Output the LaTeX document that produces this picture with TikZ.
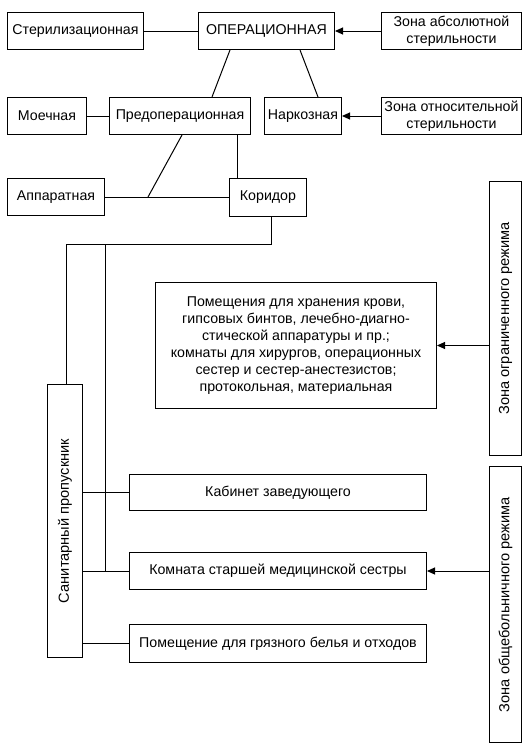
\documentclass[tikz,border=0pt]{standalone}
\usepackage{fontspec}
\setmainfont{Liberation Sans}
\usetikzlibrary{arrows.meta,calc}
\begin{document}
\begin{tikzpicture}[x=1pt,y=-1pt,
  box/.style={draw,line width=1pt,inner sep=0pt,anchor=north west,align=center,font=\fontsize{14.2}{17}\selectfont},
  vtext/.style={rotate=90,font=\fontsize{14.6}{17}\selectfont},
  con/.style={line width=1pt},
  arr/.style={line width=1pt,-{Triangle[length=8pt,width=7pt]}}]
\useasboundingbox (0,0) rectangle (531,747);
% top rows
\node[box,minimum width=136pt,minimum height=37pt] (ster) at (7,12) {Стерилизационная};
\node[box,minimum width=136pt,minimum height=37pt] (oper) at (198,12) {ОПЕРАЦИОННАЯ};
\node[box,minimum width=140pt,minimum height=37pt] (zabs) at (381,12) {Зона абсолютной\\стерильности};
\node[box,minimum width=79pt,minimum height=37pt] (moech) at (7,97) {Моечная};
\node[box,minimum width=141pt,minimum height=37pt] (preop) at (109,97) {Предоперационная};
\node[box,minimum width=77pt,minimum height=37pt] (narc) at (264,97) {Наркозная};
\node[box,minimum width=140pt,minimum height=37pt] (zotn) at (381,97) {Зона относительной\\стерильности};
\node[box,minimum width=97pt,minimum height=37pt] (app) at (7,178) {Аппаратная};
\node[box,minimum width=77pt,minimum height=38pt] (kor) at (229,178) {Коридор};
% middle
\node[box,minimum width=281pt,minimum height=126pt] (pom) at (155,282) {Помещения для хранения крови,\\гипсовых бинтов, лечебно-диагно-\\стической аппаратуры и пр.;\\комнаты для хирургов, операционных\\сестер и сестер-анестезистов;\\протокольная, материальная};
\node[box,minimum width=32pt,minimum height=274pt] (zogr) at (489,181) {};
\node[vtext] at (zogr.center) {Зона ограниченного режима};
\node[box,minimum width=35pt,minimum height=273pt] (sanit) at (47,384) {};
\node[vtext] at (sanit.center) {Санитарный пропускник};
\node[box,minimum width=32pt,minimum height=276pt] (zobsh) at (489,466) {};
\node[vtext] at (zobsh.center) {Зона общебольничного режима};
\node[box,minimum width=297pt,minimum height=36pt] (kab) at (129,474) {Кабинет заведующего};
\node[box,minimum width=297pt,minimum height=37pt] (komn) at (129,552) {Комната старшей медицинской сестры};
\node[box,minimum width=297pt,minimum height=38pt] (gryaz) at (129,624) {Помещение для грязного белья и отходов};
% connectors
\draw[con] (ster.east) -- (ster.east -| oper.west);
\draw[arr] (zabs.west) -- (zabs.west -| oper.east);
\draw[con] ([xshift=32pt]oper.south west) -- ([xshift=103pt]preop.north west);
\draw[con] ([xshift=102pt]oper.south west) -- ([xshift=54pt]narc.north west);
\draw[con] (moech.east) -- (moech.east -| preop.west);
\draw[arr] (zotn.west) -- (zotn.west -| narc.east);
\draw[con] (app.east) -- (app.east -| kor.west);
\coordinate (j1) at ($(app.east)+(43,0)$);
\draw[con] ([xshift=73pt]preop.south west) -- (j1);
\draw[con] ([xshift=128pt]preop.south west) -- ([xshift=128pt]preop.south west |- kor.north);
\coordinate (k1) at ($(kor.south west)+(42,27)$);
\coordinate (k2) at ($(sanit.north west)+(19,0)$);
\coordinate (k3) at ($(sanit.north west)+(58,0)$);
\draw[con] ([xshift=42pt]kor.south west) -- (k1) -- (k1 -| k2) -- (k2);
\draw[con] (k1 -| k3) -- (k3 |- komn.west);
\draw[con] (sanit.east |- kab.west) -- (kab.west);
\draw[con] (sanit.east |- komn.west) -- (komn.west);
\draw[con] (sanit.east |- gryaz.west) -- (gryaz.west);
\draw[arr] (zogr.west |- pom.east) -- (pom.east);
\draw[arr] (zobsh.west |- komn.east) -- (komn.east);
\end{tikzpicture}
\end{document}
